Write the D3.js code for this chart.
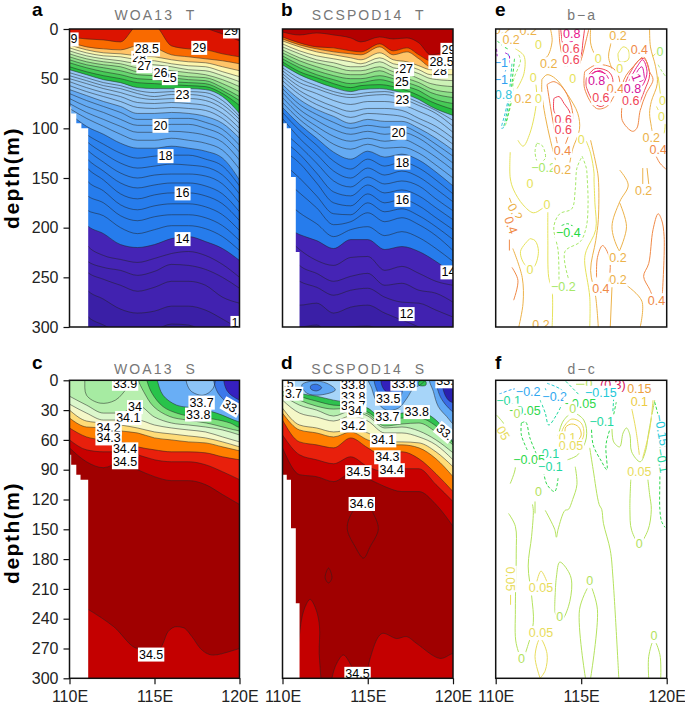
<!doctype html>
<html>
<head>
<meta charset="utf-8">
<title>WOA13 vs SCSPOD14 sections</title>
<script src="https://d3js.org/d3.v7.min.js"></script>
<style>
    html, body { margin: 0; background: #fff; }
    svg { display: block; }
    text { font-family: "Liberation Sans", Arial, sans-serif; }
    .tick line { stroke: #111; stroke-width: 1.2; }
    .tick text { font-size: 16px; fill: #222; }
</style>
</head>
<body>
<svg id="chart" width="685" height="704"></svg>
<script>
// ---- axes
var lonTicks = [110, 115, 120];
var depthTicksT = [0, 50, 100, 150, 200, 250, 300];
var depthTicksS = [0, 30, 60, 90, 120, 150, 180, 210, 240, 270, 300];

// ---- temperature levels and the colour below each isotherm
var levelsT = [29.5, 29, 28.5, 28, 27.5, 27, 26.5, 26, 25.5, 25, 24.5, 24, 23.5, 23, 22.5, 22, 21.5, 21, 20.5, 20, 19.5, 19, 18.5, 18, 17.5, 17, 16.5, 16, 15.5, 15, 14.5, 14, 13.5, 13, 12.5, 12, 11.5];
var colorsT = ["#dc1400", "#f96a00", "#ffc468", "#fdf6ae", "#e8f8c4", "#cdf2b6", "#aeea9e", "#8ce088", "#68d670", "#46ca56", "#26bc40", "#96c8f6", "#96c8f6", "#96c8f6", "#96c8f6", "#8ec3f6", "#8ec3f6", "#64aaf3", "#64aaf3", "#64aaf3", "#64aaf3", "#64aaf3", "#2c82ee", "#2c82ee", "#2c82ee", "#2c82ee", "#267cec", "#267cec", "#267cec", "#267cec", "#267cec", "#4524b5", "#4524b5", "#4122b0", "#4122b0", "#3a1fa6", "#331c9e"];
var topT = "#b40000";

// panel a, depth of each isotherm at lonsA
var lonsA = [110, 111, 112, 113, 114, 115, 116, 117, 118, 119, 120];
var depthsA = [
    [-9, -9, -9, -9, -9, -9, -9, -9, -1, 5, 12],
    [8, 10, 11, 13, -3, -3, 17, 20, 21, 25, 28],
    [13, 18, 20, 21, 17, 19, 26, 28, 30, 32, 35],
    [16, 21, 24, 25, 27, 28, 31, 33, 34, 38, 42],
    [19, 24, 27, 28, 31, 32, 35, 37, 38, 43, 48],
    [22, 27, 30, 32, 35, 36, 38, 41, 42, 47, 53],
    [25, 30, 33, 35, 39, 40, 42, 44, 46, 51, 58],
    [28, 33, 36, 38, 43, 44, 46, 48, 49, 55, 63],
    [31, 36, 39, 42, 46, 47, 49, 51, 52, 59, 68],
    [34, 39, 43, 46, 50, 51, 53, 54, 55, 62, 72],
    [38, 43, 47, 50, 54, 55, 56, 57, 58, 65, 77],
    [41, 46, 51, 54, 59, 60, 60, 60, 61, 68, 85],
    [44, 49, 54, 57, 62, 64, 63, 63, 64, 72, 88],
    [47, 52, 57, 60, 65, 68, 66, 66, 68, 76, 91],
    [50, 55, 60, 64, 69, 71, 70, 70, 72, 80, 95],
    [53, 59, 64, 68, 74, 75, 74, 75, 77, 85, 100],
    [57, 63, 68, 73, 79, 80, 79, 80, 82, 90, 105],
    [61, 67, 73, 78, 85, 85, 84, 85, 88, 95, 110],
    [65, 72, 78, 84, 91, 91, 90, 90, 94, 101, 117],
    [70, 78, 84, 91, 97, 97, 96, 96, 100, 107, 124],
    [75, 84, 91, 98, 104, 104, 103, 104, 107, 114, 132],
    [80, 90, 98, 106, 112, 112, 110, 112, 115, 122, 141],
    [85, 98, 106, 115, 120, 120, 118, 120, 123, 130, 152],
    [90, 106, 116, 125, 130, 128, 127, 127, 131, 138, 158],
    [95, 113, 125, 135, 140, 138, 136, 137, 139, 147, 166],
    [100, 121, 134, 145, 150, 147, 146, 146, 148, 156, 175],
    [105, 130, 143, 155, 160, 157, 155, 155, 158, 166, 184],
    [110, 139, 152, 166, 171, 167, 165, 165, 168, 176, 193],
    [117, 152, 163, 177, 182, 178, 176, 176, 179, 187, 203],
    [125, 167, 175, 188, 193, 189, 187, 187, 190, 198, 213],
    [133, 182, 188, 200, 206, 202, 198, 198, 201, 209, 223],
    [140, 197, 206, 217, 220, 217, 211, 209, 214, 221, 233],
    [150, 217, 228, 232, 235, 231, 226, 224, 228, 237, 250],
    [160, 233, 240, 243, 248, 244, 237, 238, 242, 250, 261],
    [170, 244, 252, 258, 264, 260, 254, 254, 258, 270, 276],
    [180, 262, 272, 282, 286, 284, 279, 279, 283, 292, 302],
    [190, 288, 298, 305, 305, 303, 297, 298, 305, 310, 315]
];

// panel b, warm part (29.5 to 24) and deep part (23.5 to 11.5)
var lonsBwarm = [110, 111, 112, 113, 114, 114.6, 115.7, 116.5, 117.3, 118, 118.7, 120];
var depthsBwarm = [
    [3, 6, 4, 6, 9, 13, 8, 10, 9, 14, 26, 18],
    [8, 14, 18, 19, 22, 23, 15, 22, 19, 26, 32, 27],
    [10, 16, 20, 23, 25, 26, 18, 26, 23, 30, 38, 35],
    [12, 18, 23, 26, 29, 31, 24, 31, 33, 37, 41, 40],
    [15, 22, 27, 30, 33, 35, 29, 35, 37, 41, 46, 46],
    [18, 25, 31, 34, 38, 38, 33, 39, 41, 45, 50, 52],
    [21, 29, 34, 38, 42, 42, 38, 43, 45, 50, 55, 58],
    [24, 32, 38, 43, 46, 46, 42, 47, 50, 54, 60, 64],
    [27, 36, 42, 47, 50, 50, 47, 50, 54, 58, 64, 69],
    [30, 39, 46, 51, 55, 54, 51, 54, 58, 62, 69, 75],
    [33, 43, 49, 55, 59, 57, 56, 58, 62, 67, 73, 81],
    [36, 46, 53, 59, 63, 61, 60, 62, 66, 71, 78, 87]
];
var lonsBdeep = [110, 111, 112, 113, 114, 115, 116, 117, 118, 119, 120];
var depthsBdeep = [
    [39, 50, 57, 63, 66, 64, 63, 67, 74, 82, 92],
    [42, 54, 60, 66, 69, 67, 66, 70, 77, 85, 98],
    [45, 58, 65, 72, 76, 73, 73, 76, 83, 91, 104],
    [48, 62, 71, 78, 83, 80, 80, 82, 90, 98, 110],
    [52, 66, 76, 83, 89, 85, 86, 88, 95, 104, 116],
    [56, 71, 81, 88, 95, 91, 93, 93, 100, 110, 122],
    [60, 76, 86, 94, 100, 97, 99, 98, 105, 116, 128],
    [64, 81, 92, 101, 106, 103, 106, 104, 110, 122, 135],
    [69, 86, 98, 108, 113, 110, 113, 111, 118, 129, 142],
    [74, 91, 104, 116, 121, 116, 120, 119, 125, 137, 150],
    [79, 96, 110, 124, 131, 123, 129, 126, 132, 144, 158],
    [84, 102, 117, 133, 141, 131, 138, 134, 140, 152, 166],
    [90, 110, 126, 143, 150, 140, 147, 143, 149, 161, 174],
    [103, 118, 135, 153, 159, 149, 156, 153, 158, 171, 183],
    [112, 126, 145, 164, 168, 157, 165, 162, 168, 180, 192],
    [122, 135, 155, 175, 178, 166, 175, 171.5, 178, 190, 202],
    [135, 150, 168, 186, 187, 175, 184, 181, 188, 199, 212],
    [150, 165, 180, 197, 194, 185, 194, 190, 197, 208, 223],
    [170, 185, 196, 209, 202, 199, 208, 204, 210, 221, 234],
    [198, 207, 213, 221, 212, 212, 222, 219, 224, 234, 246],
    [205, 222, 233, 238, 230, 229, 243, 239, 246, 254, 258],
    [215, 238, 246, 254, 249, 246, 258, 256, 263, 266, 275],
    [240, 254, 260, 268, 263, 261, 270, 275, 276, 283, 290],
    [260, 278, 276, 286, 280, 278, 286, 293, 300, 310, 315],
    [290, 300, 298, 310, 300, 299, 306, 315, 320, 325, 330]
];

// ---- salinity
var levelsC = [34, 34.1, 34.15, 34.2, 34.3, 34.4, 34.5];
var colorsC = ["#dcf7cc", "#f5f8c8", "#ffdc78", "#ff7f00", "#e8200c", "#c80000", "#a00000"];
var lonsC = [110, 111, 112, 113, 114, 115, 116, 117, 118, 119, 120];
var depthsC = [
    [16, 25, 33, 33, 25, 37, 43, 45, 47, 50, 55],
    [24, 33, 40, 40, 40, 45, 48, 50, 52, 57, 62],
    [30, 41, 43, 45, 48, 52, 54, 56, 58, 62, 67],
    [38, 47, 48, 51, 53, 58, 60, 62, 63, 67, 71],
    [48, 57, 60, 62, 67, 70, 72, 72, 73, 77, 80],
    [60, 70, 72, 72, 75, 80, 82, 82, 85, 92, 100],
    [68, 82, 88, 83, 90, 97, 101, 101, 105, 115, 125]
];
var lonsCdeep = [111.1, 112.6, 114.05, 115.3, 115.8, 116.3, 116.7, 117.2, 117.7, 118.45, 119.43, 120];
var depthsCdeep = [230.6, 248, 270, 270, 253, 248, 249, 258, 270, 276.6, 273, 270];

var levelsD = [33.8, 33.85, 33.9, 34, 34.1, 34.15, 34.2, 34.3, 34.4, 34.5];
var colorsD = ["#2ec24f", "#74dc7a", "#b5efae", "#dcf7cc", "#f5f8c8", "#ffdc78", "#ff7f00", "#e8200c", "#c80000", "#a00000"];
var lonsD = [110, 111, 112, 113, 114, 115, 116, 117, 118, 119, 120];
var depthsD = [
    [6, 13, 16, 20, 23, 28, 40, 33, 32, 40, 62],
    [8, 16, 21, 25, 26, 32, 42, 38, 38, 46, 63],
    [11, 20, 26, 29, 28, 34, 46, 44, 43, 52, 65],
    [15, 25, 30, 36, 31, 36, 48, 47, 51, 60, 73],
    [20, 33, 37, 41, 36, 41, 53, 53, 57, 65, 80],
    [28, 45, 48, 52, 50, 53, 62, 62, 63, 72, 87],
    [33, 50, 53, 57, 52, 60, 65, 65, 68, 79, 97],
    [40, 62, 65, 68, 58, 68, 77, 72, 79, 94, 112],
    [55, 75, 80, 84, 77, 87, 92, 89, 89, 105, 122],
    [68, 95, 97, 102, 94, 99, 107, 112, 112, 125, 147]
];

// patches on the salinity panels, closed outlines of [lon, depth]
var patchesC = [
    ["#a6eba2", [[110.9, -6], [110.9, 0], [111, 15], [111.8, 23], [112.7, 20], [113.45, 6.5], [114.05, -6]]],
    ["#7ee07e", [[114, -6], [114.05, 0], [114.35, 11], [114.95, 26.5], [115.9, 36.5], [116.9, 40], [118.05, 43], [119.25, 48], [120, 51], [121, 53], [121, -6]]],
    ["#28c34a", [[114.5, -6], [114.55, 0], [114.85, 13], [115.5, 26.5], [116.3, 33], [117.45, 37.5], [118.45, 39], [119.45, 43], [120, 47.5], [121, 49], [121, -6]]],
    ["#69aef5", [[115.1, -6], [115.15, -1], [115.5, 15], [116.3, 25], [117.45, 28], [118.65, 33], [120, 42], [121, 45], [121, -6]]],
    ["#8cc4f7", [[116.9, -4], [117.1, 10], [117.85, 15], [118.45, 8], [118.5, -4]]],
    ["#3b78ea", [[118.55, -6], [118.65, 10], [119.15, 21], [120, 33], [121, 40], [121, -6]]],
    ["#3620c0", [[119.15, -6], [119.25, 10], [120, 20], [121, 25], [121, -6]]]
];
var patchesD = [
    ["#60a8f4", [[111.13, 4.7], [111.8, 0.7], [112.6, 3], [113.1, 9.7], [112.2, 14.8], [111.43, 13]]],
    ["#3878e8", [[111.66, 5.4], [112, 4], [112.3, 7.4], [112, 10.7], [111.66, 8.7]]],
    ["#60a8f4", [[115.04, -3], [115.23, 8], [115.53, 21.5], [116.1, 30], [116.8, 28], [117.3, 18], [117.68, 8], [118.07, 4.7], [118.45, -3]]],
    ["#2f6fe6", [[115.43, -3], [115.53, 9.7], [116, 21.5], [116.7, 23], [117, 13], [117.1, 3], [117.2, -3]]],
    ["#3320bb", [[115.82, -3], [115.82, 4.7], [116.1, 11.4], [116.6, 8], [116.5, -3]]],
    ["#60a8f4", [[118.65, -3], [118.85, 11.4], [119.14, 26.5], [119.63, 36.5], [120.2, 46.6], [121, 48], [121, -6]]],
    ["#3a6ce6", [[119.04, -3], [119.14, 11.4], [119.43, 21.5], [120.1, 33], [121, 38], [121, -6]]],
    ["#2a1fb0", [[119.43, -3], [119.43, 9.7], [119.73, 20], [120.1, 23], [121, 25], [121, -6]]],
    ["#2ec24f", [[114, 8], [114.75, 8], [114.75, 9.3], [114, 9.3]]],
    ["#2ec24f", [[118, 1], [118.4, 1], [118.4, 5], [118, 5]]],
    ["#c40000", [[111, 320], [111.04, 249.8], [111.33, 228], [111.62, 220.6], [111.97, 231], [112.17, 248], [112.15, 275], [112.25, 300], [112.25, 320]]],
    ["#c40000", [[112.9, 300], [113.18, 285], [113.57, 276.6], [113.96, 285], [114.3, 300], [114.4, 320], [112.8, 320]]],
    ["#c40000", [[114.94, 300], [115.14, 280], [115.82, 255], [116.7, 260], [117.28, 258], [117.87, 265], [119.24, 280], [120, 275], [120.5, 275], [120.5, 320], [114.9, 320]]],
    ["#a00000", [[114.55, 124], [113.96, 137], [113.8, 150], [114.26, 167.5], [114.75, 179], [115.14, 167.5], [115.62, 150], [115.37, 135.6], [114.94, 124]]],
    ["#a00000", [[112.7, 189], [112.9, 199], [112.7, 204], [112.5, 199]]]
];
var patchColorsCdeep = "#c40000";

// land masks: lon of each step, depth where the land starts
var maskLonA = [110, 110.1, 110.4, 110.7, 111.1];
var maskDepthA = [78, 85, 95, 100, 100];
var maskLonB = [110, 110.25, 110.5, 110.78, 111];
var maskDepthB = [95, 100, 149, 224.5, 224.5];
var maskLonC = [110, 110.1, 110.4, 110.65, 111.1];
var maskDepthC = [75, 85, 95, 100, 100];

// ---- contour labels: lon, depth, text, rotation
var labelsA = [[110.27, 10, "9"], [117.63, 18.5, "29"], [119.5, 2, "29"], [114.1, 28.5, "28"], [114.55, 20, "28.5"], [114.4, 37, "27"], [115.9, 49, "25"], [115.35, 44, "26"], [116.65, 66, "23"], [115.35, 97, "20"], [115.65, 127.5, "18"], [116.65, 165, "16"], [116.65, 211, "14"], [119.73, 295.4, "1"]];
var labelsB = [[119.73, 20.5, "29"], [119.24, 42, "28"], [119.33, 33, "28.5"], [117, 47, "26"], [117, 53, "25"], [117.25, 40, "27"], [117.03, 70.5, "23"], [116.8, 104, "20"], [117.03, 134, "18"], [117.03, 171.5, "16"], [119.73, 244.5, "14"], [117.28, 286.5, "12"]];
var labelsC = [[113.27, 3, "33.9"], [113.85, 26.5, "34"], [113.46, 37.5, "34.1"], [112.3, 48, "34.2"], [112.3, 58, "34.3"], [113.27, 69, "34.4"], [113.27, 82, "34.5"], [117.77, 22, "33.7"], [117.57, 34, "33.8"], [119.53, 26.5, "33.", 30], [114.8, 275.6, "34.5"]];
var labelsD = [[110.15, 3.5, "3.5"], [110.65, 13, "3.7"], [114.15, 4, "33.8"], [114.15, 16.5, "33.8"], [114.15, 25, "33.7"], [114.25, 30, "34"], [114.15, 45, "34.2"], [117.1, 3, "33.8"], [116.2, 18, "33.5"], [116.15, 36.5, "33.7"], [117.87, 31.5, "33.8"], [115.9, 60, "34.1"], [116.15, 77, "34.3"], [116.4, 90, "34.4"], [114.45, 92, "34.5"], [114.65, 124, "34.6"], [119.53, 52, "33.", 40], [119.53, 0.5, "33."], [114.4, 295, "34.5"]];

// ---- difference panels: level and line
var levelsE = [1, 0.8, 0.6, 0.4, 0.2, 0, -0.2, -0.4, -0.6, -0.8, -1, -1.2];
var colorsE = ["#d4109a", "#e8148c", "#f04458", "#f08a48", "#ecb24a", "#e6e25a", "#a6e868", "#1fd840", "#20d0a0", "#30c4dc", "#30a0f0", "#a020d0"];
var contoursE = [
    [0.8, [[114, 0], [114.1, 6], [114.4, 13], [114.7, 8], [114.85, 0]]],
    [0.6, [[113.8, 0], [113.9, 14], [114.05, 26], [114.2, 38]]],
    [0.6, [[115.2, 0], [115.1, 13], [115, 26], [114.7, 36]]],
    [0.4, [[113.7, 0], [113.75, 14], [113.9, 28], [114.05, 38]]],
    [0.4, [[115.45, 0], [115.25, 14], [115.05, 28], [114.85, 38]]],
    [0.2, [[113.2, 0], [113.3, 12], [113, 28], [112.6, 31]]],
    [0.2, [[115.55, 0], [115.55, 14], [115.75, 24], [116, 28]]],
    [0.2, [[116.7, 0], [116.75, 12], [116.6, 28], [116.8, 40]]],
    [0.2, [[112.7, 51], [113, 46], [113.5, 50], [114.2, 66], [114.8, 85], [114.9, 101], [114.5, 121], [114.3, 138]]],
    [0.2, [[112.7, 51], [112.7, 65], [112.9, 88], [113.2, 112], [113.5, 132]]],
    [0.4, [[113, 56], [113.4, 53], [114, 61], [114.5, 85], [114.3, 105], [114, 119]]],
    [0.4, [[113, 56], [113.2, 78], [113.4, 98], [113.6, 115]]],
    [0.6, [[113.4, 70], [113.7, 68], [114, 75], [114.35, 85], [114.2, 92]]],
    [0.6, [[113.4, 70], [113.4, 82], [113.6, 89]]],
    [1, [[118.2, 50], [118.3, 42], [118.55, 38], [118.65, 43], [118.65, 51], [118.4, 53]]],
    [0.8, [[117.8, 52], [118.3, 37], [118.6, 31], [118.85, 43], [118.65, 55], [118.4, 60]]],
    [0.6, [[117.5, 58], [117.8, 46], [118.4, 31], [118.7, 30], [119, 46], [118.7, 62], [118.4, 75]]],
    [0.4, [[117.4, 76], [117.5, 51], [118.2, 35], [118.65, 28], [119, 43], [119.2, 51], [118.8, 65], [118.45, 82], [118.25, 100], [118, 103], [117.4, 92], [117.4, 76]]],
    [0.2, [[119, 0], [119.05, 18], [119.35, 38], [119.45, 55], [119.1, 73], [119, 85], [119.1, 98], [119.2, 108]]],
    [0.4, [[119.3, 125], [119.6, 135], [119.95, 141]]],
    [0.4, [[119.2, 270], [119, 262], [118.65, 249], [118.95, 236], [119.2, 202], [119.5, 186], [119.7, 192], [119.85, 209], [119.75, 266]]],
    [0, [[119.15, 28], [119.4, 24]]],
    [0, [[119.5, 48], [119.65, 68]]],
    [0, [[119.4, 78], [119.7, 88], [119.9, 95], [119.85, 105]]],
    [-0.2, [[119.5, 36], [119.7, 42], [119.95, 48]]],
    [0, [[117.15, 25], [117.45, 18], [117.75, 21], [117.75, 31], [117.25, 33], [117.15, 25]]],
    [0.8, [[115.6, 45], [116.1, 42], [116.45, 46]]],
    [0.8, [[115.5, 51], [115.8, 43], [116.4, 45], [116.6, 50]]],
    [0.6, [[115.3, 50], [115.8, 40], [116.6, 43], [116.85, 51], [116.6, 70], [116.2, 78], [115.8, 75], [115.3, 58], [115.3, 50]]],
    [0.4, [[115.2, 43], [115.9, 36], [116.9, 40], [117.25, 53], [116.9, 68], [116.5, 78], [115.9, 80], [115.2, 60], [115.2, 43]]],
    [0, [[115.3, 113], [115.55, 125], [115.75, 145], [115.75, 152], [115.8, 175], [115.85, 202], [115.3, 223], [115.2, 233], [115.5, 270], [115.5, 300]]],
    [0.2, [[115.55, 112], [115.85, 135], [116, 150], [116, 192], [115.85, 213], [115.55, 243], [115.85, 270], [116, 300]]],
    [0, [[112.3, 50], [112.4, 70], [112, 105], [111.6, 118], [111.3, 112]]],
    [0, [[111.15, 20], [111.65, 27], [111.65, 45], [111.25, 60]]],
    [0, [[110.85, 124], [110.85, 150], [111.05, 162], [111.6, 177], [112.2, 185], [112.7, 181], [113, 177]]],
    [0, [[113.05, 180], [113.05, 213], [113.1, 250], [113.3, 263], [113.3, 300]]],
    [0, [[112, 211], [111.45, 224], [111.75, 238], [112.2, 240], [112.5, 224], [112.3, 213], [112, 211]]],
    [0.2, [[111, 221], [111.55, 250], [111.6, 276], [111.35, 300]]],
    [0.2, [[110.8, 170], [111.05, 181]]],
    [0.4, [[110.95, 240], [111.3, 253], [111.05, 273]]],
    [0.4, [[110.8, 212], [110.8, 223]]],
    [-0.2, [[115, 130], [114.75, 140], [114.65, 162], [114.45, 181], [113.75, 186], [113.4, 199], [113.65, 223], [113.7, 253]]],
    [-0.2, [[115.05, 128], [115.3, 140], [115.35, 150], [115.4, 176], [115.3, 199], [114.95, 214], [114.05, 224], [114.25, 251]]],
    [-0.4, [[113.85, 198], [114.2, 196], [114.55, 199]]],
    [-0.2, [[112.4, 115], [112.7, 117], [112.9, 130], [112.5, 135], [112.3, 124], [112.4, 115]]],
    [-0.2, [[111.35, 26], [111.45, 32], [111.05, 51], [110.95, 71], [110.55, 98]]],
    [-0.4, [[111.1, 30], [110.95, 55], [110.85, 75], [110.6, 95]]],
    [-0.6, [[110.95, 35], [110.85, 55], [110.75, 75], [110.45, 100]]],
    [-0.8, [[110.75, 70], [110.55, 85], [110.35, 100], [110.55, 98]]],
    [-1, [[110.75, 25], [110.7, 35], [110.4, 50]]],
    [-1.2, [[110.55, 24], [110.8, 27], [110.75, 35]]],
    [-1.2, [[110.05, 20], [110.1, 30]]],
    [-0.4, [[110.1, 12], [110.4, 17], [110.7, 20]]],
    [0.2, [[117.25, 142], [117.75, 157], [117.25, 174], [116.8, 199], [117.15, 221], [117.45, 228]]],
    [0.2, [[117.25, 175], [117.65, 199], [117.25, 223]]],
    [0.2, [[118.6, 140], [118.6, 156]]],
    [0.2, [[118.85, 140], [118.95, 156]]],
    [0.4, [[115.9, 250], [115.95, 230], [116.25, 218], [116.65, 230], [116.65, 250], [116.45, 262]]],
    [0.2, [[116.8, 260], [116.7, 300]]],
    [0.2, [[117.65, 258], [118.55, 274], [118.45, 300]]]
];
var labelsE = [[110.4, 1, "0.2", 0.2], [111.9, 1.5, "0.2", 0.2], [114.45, 4.5, "0.8", 0.8], [117.15, 7, "0.2", 0.2], [110.9, 10.5, "0.2", 0.2], [112.5, 16, "0", 0], [114.4, 20, "0.6", 0.6], [118.4, 20.5, "0.4", 0.4], [110.3, 34, "−1", -1], [114.4, 30.5, "0.6", 0.6], [113.1, 35, "0.2", 0.2], [116, 29.5, "0", 0], [117.25, 39.5, "0", 0], [119.6, 23, "0", -0.2], [110.3, 50.5, "−1", -1], [112.2, 48.5, "0", 0], [114.5, 49.5, "0", 0], [115.9, 52, "0.8", 1], [118.25, 48.5, "1", 1, 70], [117, 60, "0.4", 0.4], [118, 60, "0.8", 1], [110.45, 65.5, "0.8", -0.8], [111.6, 70, "0.2", 0.2], [112.5, 70, "0", 0], [116.15, 69, "0.6", 0.6], [117.9, 72, "0.6", 0.6], [119.75, 71.5, "0", 0], [119.7, 88, "0", 0], [113.95, 91.5, "0.6", 0.6], [113.95, 101, "0.6", 0.6], [115, 111, "0", 0], [119.1, 109, "0.2", 0.2], [113.9, 122, "0.4", 0.4], [119.5, 121, "0.4", 0.4], [112.8, 139, "−0.2", -0.2], [113.9, 141, "0.2", 0.2], [112, 155.5, "0", 0], [118.65, 163, "0.2", 0.2], [113, 177, "0", 0], [111.15, 184, "0.2", 0.2, 60], [110.9, 197.5, "0.4", 0.4, 70], [114.25, 205, "−0.4", -0.4], [117.15, 230, "0.2", 0.2], [112, 242, "0", 0], [117.15, 252, "0.2", 0.2], [113.95, 259, "−0.2", -0.2], [116.15, 261, "0.4", 0.4], [119.4, 273, "0.4", 0.4], [112.65, 297, "0.2", 0.2]];

var levelsF = [0.3, 0.15, 0.1, 0.05, 0, -0.05, -0.1, -0.15, -0.2];
var colorsF = ["#d8145c", "#eca040", "#eccc44", "#e8dc5c", "#b4e25e", "#2ed84c", "#1fd8a0", "#22c8d8", "#30a8f0"];
var contoursF = [
    [0, [[113.65, 56], [113.95, 41], [114.5, 33], [115.15, 40], [115.3, 58], [114.8, 75], [114.2, 80]]],
    [0.05, [[113.75, 62], [113.95, 48], [114.45, 39], [115, 43], [115.15, 55], [114.65, 72]]],
    [0.1, [[114.05, 52], [114.1, 47], [114.45, 44], [114.85, 47], [115, 55], [114.75, 62]]],
    [0, [[114.65, 87], [114.75, 105], [114.5, 120], [114.25, 130], [114.05, 131], [113.65, 150], [113.55, 158], [113.45, 150], [112.9, 131]]],
    [0, [[112.15, 125], [112.2, 131], [112.1, 157], [111.9, 187], [112.1, 217], [112.2, 244], [111.9, 266], [111.55, 280], [111.2, 265], [111.15, 231], [111.2, 174], [111.15, 147], [110.75, 134]]],
    [0, [[112.3, 122], [112.3, 134]]],
    [0, [[113.45, 228], [113.55, 198], [113.75, 183], [114.3, 194], [114.45, 205], [114.25, 228], [113.85, 241], [113.5, 235], [113.45, 228]]],
    [0, [[115.4, 208], [114.9, 231], [115.25, 300]]],
    [0, [[115.6, 208], [115.95, 231], [115.55, 300]]],
    [0, [[115.5, 68], [115.7, 90], [116.05, 125], [116.2, 130], [116.3, 144], [116.7, 171], [116.85, 197], [117.2, 300]]],
    [0, [[117.9, 100], [117.85, 130], [117.95, 151], [118.4, 164], [118.9, 151], [119.1, 130], [119, 115], [118.9, 100]]],
    [0, [[116.8, 45], [116.9, 62], [117.25, 67], [117.45, 53], [117.65, 48], [117.85, 55], [117.95, 72], [118.45, 82], [118.75, 72], [118.95, 52], [119.3, 20]]],
    [0.05, [[117.95, 28], [118.2, 50], [118.4, 75]]],
    [0.05, [[118.6, 78], [119, 50], [119.2, 20]]],
    [0, [[118.95, 300], [118.95, 278], [119.25, 262], [119.6, 276], [119.65, 300]]],
    [0.05, [[112.6, 300], [112.3, 278], [112.6, 260], [113, 275], [112.9, 292], [112.6, 300]]],
    [0.05, [[112.4, 203], [112.65, 192], [113, 203]]],
    [0.05, [[110.87, 216], [110.87, 226]]],
    [0, [[110.05, 35], [110.45, 43], [110.75, 52]]],
    [0, [[111.05, 80], [111.15, 88], [110.85, 104]]],
    [-0.05, [[111.5, 43], [111.75, 42], [112, 58], [112.4, 75]]],
    [-0.05, [[111.5, 43], [111.5, 55], [111.9, 72]]],
    [-0.1, [[112.6, 20], [112.9, 33], [113.1, 45], [113.55, 35], [113.85, 25]]],
    [-0.15, [[112.9, 8], [113.2, 20], [113.45, 23]]],
    [-0.05, [[112.8, 92], [113, 105], [113.45, 112], [113.65, 98]]],
    [-0.05, [[115.6, 45], [115.7, 65], [116.2, 82], [116.5, 90], [116.45, 65], [116.8, 42], [117.05, 22]]],
    [-0.1, [[116.9, 18], [116.85, 32]]],
    [-0.2, [[110.2, 14], [111, 9], [112, 7]]],
    [-0.15, [[110.1, 22], [111, 15], [111.8, 12]]],
    [-0.15, [[113, 3], [113.8, 9], [114.25, 18]]],
    [-0.1, [[114.1, 1], [114.9, 15]]],
    [0, [[114.7, 4], [115.5, 4]]],
    [-0.05, [[119.3, 22], [119.6, 45], [119.6, 75], [119.6, 100], [119.6, 130], [119.7, 142], [119.9, 148]]],
    [-0.1, [[119.8, 35], [119.9, 65], [119.75, 90]]]
];
var labelsF = [[116.85, 4.5, "(0.3)", 0.3], [115.45, 3, "0", 0], [116.15, 12, "−0.15", -0.15], [118.4, 8, "0.15", 0.15], [118.4, 21.5, "0.1", 0.1], [111.9, 11.5, "−0.2", -0.2], [113.45, 16.5, "−0.2", -0.2], [110.75, 20.5, "−0.1", -0.1], [111.7, 30, "−0.05", -0.05], [111.25, 33, "0", 0], [114.95, 23, "−0.05", -0.05], [114.5, 28, "0", 0], [116.2, 41.5, "−0.1", -0.1], [110.45, 53, "05", 0.05, 60], [119.7, 50, "−0.15", -0.15, 80], [114.2, 58, "0.1", 0.05], [114.4, 66, "0.05", 0.05], [113.2, 73.5, "0.1", -0.1], [111.95, 80, "−0.05", -0.05], [113.2, 87, "−0.1", -0.1], [118.4, 92, "0.05", 0.05], [119.75, 81, "−0.1", -0.1, 80], [112.5, 112, "0", 0], [118.4, 164, "0", 0], [115.5, 202, "0", 0], [113.75, 238, "0", 0], [119.25, 257, "0", 0], [111.5, 280, "0", 0], [112.65, 209, "0.05", 0.05], [112.65, 254, "0.05", 0.05], [110.85, 200, "0.05", 0.05, 90]];

// ---- drawing
var svg = d3.select("#chart");
var clipId = 0;

function makePanel(x0, x1, y0, y1) {
    var p = {};
    p.x = d3.scaleLinear().domain([110, 120]).range([x0, x1]);
    p.y = d3.scaleLinear().domain([0, 300]).range([y0, y1]);
    var id = "clip" + (clipId++);
    svg.append("clipPath").attr("id", id).append("rect")
        .attr("x", x0).attr("y", y0).attr("width", x1 - x0).attr("height", y1 - y0);
    var g = svg.append("g").attr("clip-path", "url(#" + id + ")");
    p.fills = g.append("g");
    p.lines = g.append("g");
    p.mask = g.append("g");
    p.text = g.append("g");
    p.box = [x0, x1, y0, y1];
    return p;
}

function drawBands(p, lons, levels, rows, color) {
    var area = d3.area().curve(d3.curveMonotoneX)
        .x(function(d) { return p.x(d[0]); })
        .y0(function(d) { return p.y(d[1]); })
        .y1(p.y(340));
    var line = d3.line().curve(d3.curveMonotoneX)
        .x(function(d) { return p.x(d[0]); })
        .y(function(d) { return p.y(d[1]); });
    rows.forEach(function(row, i) {
        var pts = d3.zip(lons, row);
        p.fills.append("path").attr("d", area(pts)).attr("fill", color(levels[i]));
        p.lines.append("path").attr("d", line(pts)).attr("fill", "none")
            .attr("stroke", "#222").attr("stroke-width", 0.5);
    });
}

function drawPatches(p, patches) {
    var line = d3.line().curve(d3.curveCatmullRomClosed.alpha(0.5))
        .x(function(d) { return p.x(d[0]); })
        .y(function(d) { return p.y(d[1]); });
    patches.forEach(function(patch) {
        p.fills.append("path").attr("d", line(patch[1])).attr("fill", patch[0]);
        p.lines.append("path").attr("d", line(patch[1])).attr("fill", "none")
            .attr("stroke", "#222").attr("stroke-width", 0.5);
    });
}

function drawMask(p, lons, depths) {
    var area = d3.area().curve(d3.curveStepAfter)
        .x(function(d) { return p.x(d[0]); })
        .y0(function(d) { return p.y(d[1]); })
        .y1(p.y(300));
    p.mask.append("path").attr("d", area(d3.zip(lons, depths))).attr("fill", "#fff");
}

function drawLabels(p, labels, size, color) {
    labels.forEach(function(l) {
        var hasLevel = typeof l[3] === "number" && color;
        var rot = hasLevel ? l[4] : l[3];
        var g = p.text.append("g")
            .attr("transform", "translate(" + p.x(l[0]) + "," + p.y(l[1]) + ") rotate(" + (rot || 0) + ")");
        var r = g.append("rect").attr("fill", "#fff");
        var t = g.append("text").text(l[2])
            .attr("text-anchor", "middle").attr("dy", "0.36em")
            .attr("font-size", size)
            .attr("fill", hasLevel ? color(l[3]) : "#000");
        var b = t.node().getBBox();
        r.attr("x", b.x - 1).attr("y", b.y).attr("width", b.width + 2).attr("height", b.height);
    });
}

function drawContours(p, contours, color) {
    var line = d3.line().curve(d3.curveCatmullRom.alpha(0.5))
        .x(function(d) { return p.x(d[0]); })
        .y(function(d) { return p.y(d[1]); });
    contours.forEach(function(c) {
        p.lines.append("path").attr("d", line(c[1])).attr("fill", "none")
            .attr("stroke", color(c[0])).attr("stroke-width", 1)
            .attr("stroke-dasharray", c[0] < 0 ? "3,2" : null);
    });
}

function frame(p, title, letter, letterX, rowTop, leftTicks, bottom) {
    var b = p.box;
    svg.append("rect").attr("x", b[0]).attr("y", b[2]).attr("width", b[1] - b[0]).attr("height", b[3] - b[2])
        .attr("fill", "none").attr("stroke", "#111").attr("stroke-width", 1.5);
    if (leftTicks) {
        var ay = svg.append("g").attr("transform", "translate(" + b[0] + ",0)")
            .call(d3.axisLeft(p.y).tickValues(leftTicks).tickSize(6).tickPadding(5));
        ay.select(".domain").remove();
    }
    if (bottom) {
        var ax = svg.append("g").attr("transform", "translate(0," + b[3] + ")")
            .call(d3.axisBottom(p.x).tickValues(lonTicks).tickSize(6).tickPadding(6)
                .tickFormat(function(d) { return d + "E"; }));
        ax.select(".domain").remove();
    }
    svg.append("text").text(title)
        .attr("x", (b[0] + b[1]) / 2 + 1).attr("y", rowTop ? b[2] - 9 : b[2] - 6)
        .attr("text-anchor", "middle").attr("font-size", 14).attr("letter-spacing", 2.1)
        .attr("fill", "#777").style("white-space", "pre");
    svg.append("text").text(letter)
        .attr("x", letterX).attr("y", rowTop ? 16 : 369)
        .attr("font-size", 19).attr("font-weight", "bold").attr("fill", "#000");
}

var colorT = d3.scaleOrdinal(levelsT, colorsT);

var pa = makePanel(69.5, 239.5, 29, 327);
pa.fills.append("rect").attr("x", 60).attr("y", 20).attr("width", 200).attr("height", 320).attr("fill", topT);
drawBands(pa, lonsA, levelsT, depthsA, colorT);
drawMask(pa, maskLonA, maskDepthA);
drawLabels(pa, labelsA, 12.5);

var pb = makePanel(282.5, 453, 29, 327);
pb.fills.append("rect").attr("x", 280).attr("y", 20).attr("width", 200).attr("height", 320).attr("fill", topT);
drawBands(pb, lonsBwarm, levelsT.slice(0, 12), depthsBwarm, colorT);
drawBands(pb, lonsBdeep, levelsT.slice(12), depthsBdeep, colorT);
drawMask(pb, maskLonB, maskDepthB);
drawLabels(pb, labelsB, 12.5);

var pe = makePanel(495.7, 666.7, 29, 327);
drawContours(pe, contoursE, d3.scaleOrdinal(levelsE, colorsE));
drawLabels(pe, labelsE, 12.5, d3.scaleOrdinal(levelsE, colorsE));

var pc = makePanel(69.5, 239.5, 380.3, 678.3);
pc.fills.append("rect").attr("x", 60).attr("y", 370).attr("width", 200).attr("height", 320).attr("fill", "#b7efae");
drawBands(pc, lonsC, levelsC, depthsC, d3.scaleOrdinal(levelsC, colorsC));
drawBands(pc, lonsCdeep, [34.49], [depthsCdeep], function() { return patchColorsCdeep; });
drawPatches(pc, patchesC);
drawMask(pc, maskLonC, maskDepthC);
drawLabels(pc, labelsC, 12.5);

var pd = makePanel(282.5, 453, 380.3, 678.3);
pd.fills.append("rect").attr("x", 280).attr("y", 370).attr("width", 200).attr("height", 320).attr("fill", "#a7d5f9");
drawBands(pd, lonsD, levelsD, depthsD, d3.scaleOrdinal(levelsD, colorsD));
drawPatches(pd, patchesD);
drawMask(pd, maskLonB, maskDepthB);
drawLabels(pd, labelsD, 12.5);

var pf = makePanel(495.7, 666.7, 380.3, 678.3);
drawContours(pf, contoursF, d3.scaleOrdinal(levelsF, colorsF));
drawLabels(pf, labelsF, 12.5, d3.scaleOrdinal(levelsF, colorsF));

frame(pa, "WOA13  T", "a", 32, true, depthTicksT, false);
frame(pb, "SCSPOD14  T", "b", 281, true, null, false);
frame(pe, "b−a", "e", 495, true, null, false);
frame(pc, "WOA13  S", "c", 32, false, depthTicksS, true);
frame(pd, "SCSPOD14  S", "d", 281, false, null, true);
frame(pf, "d−c", "f", 495, false, null, true);

[178, 533].forEach(function(cy) {
    svg.append("text").text("depth(m)")
        .attr("transform", "translate(19," + cy + ") rotate(-90)")
        .attr("text-anchor", "middle").attr("font-size", 21).attr("letter-spacing", 1.5)
        .attr("font-weight", "bold").attr("fill", "#000");
});
</script>
</body>
</html>
